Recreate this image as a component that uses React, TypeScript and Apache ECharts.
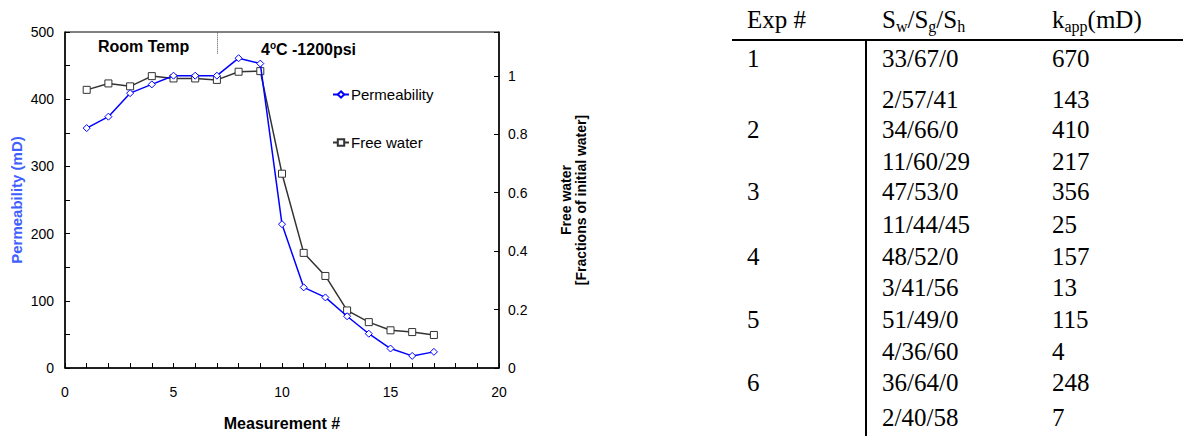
import React, { useEffect, useRef } from "react";
import * as echarts from "echarts";

// ---------- data ----------
const measurementNumbers = [1, 2, 3, 4, 5, 6, 7, 8, 9, 10, 11, 12, 13, 14, 15, 16, 17];
const permeability = [357, 374, 409, 422, 435, 435, 435, 461, 453, 214, 120, 105, 77, 51, 29, 18, 24];
const freeWater = [0.952, 0.974, 0.964, 0.999, 0.991, 0.991, 0.986, 1.014, 1.016, 0.665, 0.394, 0.315, 0.197, 0.157, 0.129, 0.123, 0.113];
const seriesNames = ["Permeability", "Free water"];
const phaseBoundary = 7; // measurement # where the conditions change
const roomTempLabel = "Room Temp";
const coldLabelParts = ["4", "o", "C -1200psi"];

const tableExp = ["1", "", "2", "", "3", "", "4", "", "5", "", "6", ""];
const tableSat = ["33/67/0", "2/57/41", "34/66/0", "11/60/29", "47/53/0", "11/44/45", "48/52/0", "3/41/56", "51/49/0", "4/36/60", "36/64/0", "2/40/58"];
const tableK = ["670", "143", "410", "217", "356", "25", "157", "13", "115", "4", "248", "7"];

// ---------- layout ----------
const SANS = "'Liberation Sans', Arial, sans-serif";
const SERIF = "'Liberation Serif', 'Times New Roman', serif";
const ROW_Y = [58, 99, 129, 161, 191, 224, 256, 287, 319, 351, 382, 417];
const COL_X = [747, 882, 1052];
const HEADER_Y = 19;

export default function App() {
  const ref = useRef<HTMLDivElement>(null);

  useEffect(() => {
    document.body.style.margin = "0";
    if (!ref.current) return;
    const chart = echarts.init(ref.current, undefined, { renderer: "svg" });

    const serifRich = {
      n: { fontSize: 25, fontFamily: SERIF, lineHeight: 30, color: "#000" },
      s: { fontSize: 16, fontFamily: SERIF, lineHeight: 16, verticalAlign: "bottom", color: "#000" },
    };

    const tableGraphics: any[] = [];
    tableGraphics.push({
      type: "text", x: COL_X[0], y: HEADER_Y,
      style: { text: "Exp #", font: `25px ${SERIF}`, fill: "#000", verticalAlign: "middle" },
    });
    tableGraphics.push({
      type: "text", x: COL_X[1], y: HEADER_Y,
      style: { text: "{n|S}{s|w}{n|/S}{s|g}{n|/S}{s|h}", rich: serifRich, fill: "#000", verticalAlign: "middle" },
    });
    tableGraphics.push({
      type: "text", x: COL_X[2], y: HEADER_Y,
      style: { text: "{n|k}{s|app}{n|(mD)}", rich: serifRich, fill: "#000", verticalAlign: "middle" },
    });
    tableGraphics.push({ type: "line", shape: { x1: 732, y1: 40, x2: 1183, y2: 40 }, style: { stroke: "#000", lineWidth: 2 } });
    tableGraphics.push({ type: "line", shape: { x1: 866, y1: 40, x2: 866, y2: 436 }, style: { stroke: "#000", lineWidth: 2 } });
    tableSat.forEach((s, i) => {
      const cells = [tableExp[i], s, tableK[i]];
      cells.forEach((t, c) => {
        if (!t) return;
        tableGraphics.push({
          type: "text", x: COL_X[c], y: ROW_Y[i],
          style: { text: t, font: `25px ${SERIF}`, fill: "#000", verticalAlign: "middle" },
        });
      });
    });

    const option: any = {
      animation: false,
      backgroundColor: "#fff",
      grid: {
        left: 65, right: 684, top: 32, bottom: 68,
        outerBoundsMode: "none", containLabel: false,
        show: true, borderColor: "#000", borderWidth: 1, backgroundColor: "transparent",
      },
      legend: {
        data: seriesNames,
        orient: "vertical",
        left: 332,
        top: 87,
        itemWidth: 16,
        itemHeight: 8,
        itemGap: 33,
        padding: 0,
        textStyle: { fontFamily: SANS, fontSize: 15, color: "#000", padding: [0, 0, 0, -3] },
      },
      xAxis: {
        type: "value", min: 0, max: 20, interval: 1,
        axisLine: { show: true, onZero: false, lineStyle: { color: "#000", width: 1.5 } },
        axisTick: { show: true, inside: true, length: 5, lineStyle: { color: "#000", width: 1 } },
        axisLabel: { formatter: (v: number) => (v % 5 === 0 ? String(v) : ""), color: "#000", fontFamily: SANS, fontSize: 14, margin: 17 },
        splitLine: { show: false },
        name: "Measurement #", nameLocation: "middle", nameGap: 47,
        nameTextStyle: { fontFamily: SANS, fontWeight: "bold", fontSize: 16, color: "#000" },
      },
      yAxis: [
        {
          type: "value", min: 0, max: 500, interval: 50, position: "left",
          axisLine: { show: true, lineStyle: { color: "#000", width: 1.5 } },
          axisTick: { show: true, inside: true, length: 5, lineStyle: { color: "#000", width: 1 } },
          axisLabel: { formatter: (v: number) => (v % 100 === 0 ? String(v) : ""), color: "#000", fontFamily: SANS, fontSize: 14, margin: 11 },
          splitLine: { show: false },
          name: "Permeability (mD)", nameLocation: "middle", nameGap: 41, nameRotate: 90,
          nameTextStyle: { fontFamily: SANS, fontWeight: "bold", fontSize: 15, color: "#3f5fff" },
        },
        {
          type: "value", min: 0, max: 1.15, interval: 0.2, position: "right",
          axisLine: { show: true, lineStyle: { color: "#000", width: 1.5 } },
          axisTick: { show: true, inside: true, length: 5, lineStyle: { color: "#000", width: 1 } },
          axisLabel: {
            formatter: (v: number) => {
              const k = Math.round(v * 5);
              if (Math.abs(v * 5 - k) > 1e-6 || v > 1.0001) return "";
              if (k === 0) return "0";
              if (k === 5) return "1";
              return v.toFixed(1);
            },
            color: "#000", fontFamily: SANS, fontSize: 14, margin: 9,
          },
          splitLine: { show: false },
          name: "Free water\n[Fractions of initial water]", nameLocation: "middle", nameGap: 59, nameRotate: 90,
          nameTextStyle: { fontFamily: SANS, fontWeight: "bold", fontSize: 14, lineHeight: 15, color: "#000", align: "center" },
        },
      ],
      series: [
        {
          name: seriesNames[0], type: "line", yAxisIndex: 0,
          data: measurementNumbers.map((x, i) => [x, permeability[i]]),
          symbol: "diamond", symbolSize: 7, showAllSymbol: true,
          itemStyle: { color: "#fff", borderColor: "#0000ff", borderWidth: 1 },
          lineStyle: { color: "#0000ff", width: 1.5 },
          z: 3,
          markLine: {
            silent: true, symbol: ["none", "none"], label: { show: false },
            lineStyle: { type: "dotted", color: "#555", width: 1 },
            data: [[{ coord: [phaseBoundary, 499] }, { coord: [phaseBoundary, 467] }]],
          },
        },
        {
          name: seriesNames[1], type: "line", yAxisIndex: 1,
          data: measurementNumbers.map((x, i) => [x, freeWater[i]]),
          symbol: "rect", symbolSize: 7, showAllSymbol: true,
          itemStyle: { color: "#fff", borderColor: "#333", borderWidth: 1 },
          lineStyle: { color: "#333", width: 1.5 },
          z: 2,
        },
      ],
      graphic: [
        {
          type: "text", x: 98, y: 46,
          style: { text: roomTempLabel, font: `bold 16px ${SANS}`, fill: "#000", verticalAlign: "middle" },
        },
        {
          type: "text", x: 261, y: 49,
          style: {
            text: `{m|${coldLabelParts[0]}}{u|${coldLabelParts[1]}}{m|${coldLabelParts[2]}}`,
            rich: {
              m: { fontFamily: SANS, fontWeight: "bold", fontSize: 16, lineHeight: 18, color: "#000" },
              u: { fontFamily: SANS, fontWeight: "bold", fontSize: 10, lineHeight: 10, verticalAlign: "top", color: "#000" },
            },
            fill: "#000", verticalAlign: "middle",
          },
        },
        ...tableGraphics,
      ],
    };
    chart.setOption(option);
    return () => chart.dispose();
  }, []);

  return <div ref={ref} style={{ width: 1183, height: 436 }} />;
}
